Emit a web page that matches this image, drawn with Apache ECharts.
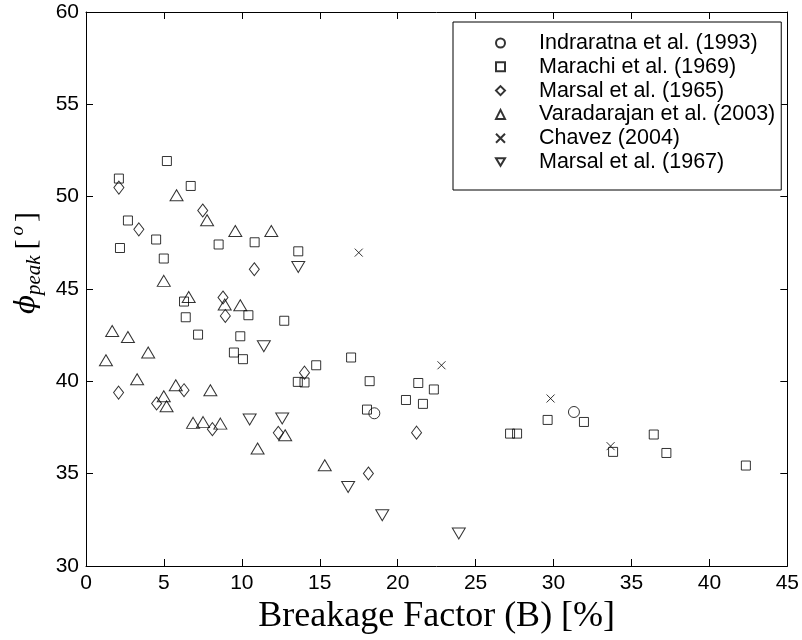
<!DOCTYPE html>
<html>
<head>
<meta charset="utf-8">
<script src="https://cdn.jsdelivr.net/npm/echarts@6/dist/echarts.min.js"></script>
<style>
  html, body { margin: 0; padding: 0; background: #fff; }
  #chart { width: 802px; height: 640px; }
</style>
</head>
<body>
<div id="chart"></div>
<script>
  // data: [B (%), phi_peak (deg)]
  const indraratna1993 = [[18.5, 38.27], [31.31, 38.34]]
  const marachi1969 = [
    [5.19, 51.93], [2.11, 50.98], [6.72, 50.58], [2.69, 48.71], [4.5, 47.68],
    [2.18, 47.22], [8.51, 47.41], [10.82, 47.53], [13.62, 47.04], [4.99, 46.65],
    [6.29, 44.32], [6.4, 43.47], [10.42, 43.58], [12.72, 43.28], [7.19, 42.53],
    [9.9, 42.44], [9.49, 41.56], [10.07, 41.2], [14.77, 40.87], [13.59, 39.97],
    [14.02, 39.94], [17.01, 41.29], [18.2, 40.01], [21.32, 39.91], [22.32, 39.56],
    [20.53, 38.99], [21.62, 38.78], [18.03, 38.47], [29.62, 37.91], [27.21, 37.17],
    [27.66, 37.17], [31.95, 37.8], [33.82, 36.18], [36.43, 37.12], [37.24, 36.12],
    [42.34, 35.44]
  ]
  const marsal1965 = [
    [2.11, 50.49], [3.39, 48.23], [7.49, 49.25], [10.8, 46.07], [8.79, 44.54],
    [8.94, 43.54], [2.09, 39.39], [6.29, 39.52], [4.53, 38.8], [8.11, 37.41],
    [12.34, 37.21], [14.02, 40.47], [21.21, 37.22], [18.12, 35.01]
  ]
  const varadarajan2003 = [
    [5.81, 50.08], [7.77, 48.72], [9.58, 48.14], [11.89, 48.14], [4.99, 45.44],
    [6.59, 44.57], [8.9, 44.16], [9.9, 44.12], [1.68, 42.73], [2.69, 42.4],
    [3.99, 41.56], [1.28, 41.14], [3.28, 40.11], [5.76, 39.79], [7.98, 39.52],
    [4.99, 39.19], [5.17, 38.65], [6.87, 37.75], [7.51, 37.79], [8.62, 37.71],
    [12.78, 37.08], [11.01, 36.36], [15.32, 35.46]
  ]
  const chavez2004 = [[17.5, 46.97], [22.81, 40.87], [29.81, 39.07], [33.66, 36.49]]
  const marsal1967 = [
    [13.62, 46.19], [11.41, 41.9], [10.5, 37.93], [12.59, 37.99],
    [16.82, 34.28], [19.01, 32.75], [23.92, 31.76]
  ]

  const xTicks = { min: 0, max: 45, interval: 5 }
  const yTicks = { min: 30, max: 60, interval: 5 }

  const black = '#000'
  const sansFont = 'Liberation Sans'
  const serifFont = 'Liberation Serif'

  const crossPath = 'path://M0,0L10,10M10,0L0,10'
  const downTriangle = 'path://M0,0L12,0L6,10Z'

  function makeSeries(name, data, symbol, size) {
    return {
      name: name,
      type: 'scatter',
      data: data,
      symbol: symbol,
      symbolSize: size,
      itemStyle: { color: 'rgba(0,0,0,0)', borderColor: black, borderWidth: 1 },
      emphasis: { disabled: true }
    }
  }

  // inside ticks on all four sides, like a boxed matlab plot
  function boxAxis(range, position, showLabel) {
    return {
      type: 'value',
      position: position,
      min: range.min,
      max: range.max,
      interval: range.interval,
      axisLine: { show: true, onZero: false, lineStyle: { color: black, width: 1 } },
      axisTick: { show: true, inside: true, length: 7, lineStyle: { color: black, width: 1 } },
      splitLine: { show: false },
      axisLabel: { show: showLabel, color: black, fontSize: 21, fontFamily: sansFont, margin: 7 }
    }
  }

  const chart = echarts.init(document.getElementById('chart'))

  const xMain = boxAxis(xTicks, 'bottom', true)
  xMain.name = 'Breakage Factor (B) [%]'
  xMain.nameLocation = 'middle'
  xMain.nameGap = 33
  xMain.nameTextStyle = { color: black, fontSize: 36, fontFamily: serifFont }

  const yMain = boxAxis(yTicks, 'left', true)
  yMain.name = '{phi|ϕ}{sub|peak}{br|[}{sup|o}{br|]}'
  yMain.nameLocation = 'middle'
  yMain.nameGap = 38
  yMain.nameTextStyle = {
    color: black,
    fontFamily: serifFont,
    padding: [0, 0, 0, 52],
    rich: {
      phi: { fontSize: 28, fontStyle: 'italic', fontFamily: 'DejaVu Serif', color: black, lineHeight: 36 },
      sub: { fontSize: 21, fontStyle: 'italic', fontFamily: serifFont, color: black, verticalAlign: 'bottom', lineHeight: 22, padding: [0, 6, 0, 0] },
      br: { fontSize: 30, fontFamily: serifFont, color: black, lineHeight: 36 },
      sup: { fontSize: 19, fontStyle: 'italic', fontFamily: serifFont, color: black, verticalAlign: 'top', lineHeight: 22, padding: [0, 4, 0, 4] }
    }
  }

  chart.setOption({
    animation: false,
    backgroundColor: '#fff',
    grid: { left: 86, right: 13, top: 12, bottom: 74, containLabel: false },
    legend: {
      orient: 'vertical',
      left: 453,
      top: 22,
      padding: [10, 6, 17, 42],
      itemWidth: 9,
      itemHeight: 9,
      itemGap: 1.8,
      backgroundColor: '#fff',
      borderColor: black,
      borderWidth: 1,
      textStyle: { color: black, fontSize: 21.5, fontFamily: sansFont, lineHeight: 20, padding: [0, 0, 0, 29] },
      data: ['Indraratna et al. (1993)', 'Marachi et al. (1969)', 'Marsal et al. (1965)',
        'Varadarajan et al. (2003)', 'Chavez (2004)', 'Marsal et al. (1967)']
    },
    xAxis: [xMain, boxAxis(xTicks, 'top', false)],
    yAxis: [yMain, boxAxis(yTicks, 'right', false)],
    series: [
      makeSeries('Indraratna et al. (1993)', indraratna1993, 'circle', 11),
      makeSeries('Marachi et al. (1969)', marachi1969, 'rect', 9),
      makeSeries('Marsal et al. (1965)', marsal1965, 'diamond', [10, 13]),
      makeSeries('Varadarajan et al. (2003)', varadarajan2003, 'triangle', [13, 11]),
      makeSeries('Chavez (2004)', chavez2004, crossPath, 8),
      makeSeries('Marsal et al. (1967)', marsal1967, downTriangle, [13, 11])
    ]
  })
</script>
</body>
</html>
